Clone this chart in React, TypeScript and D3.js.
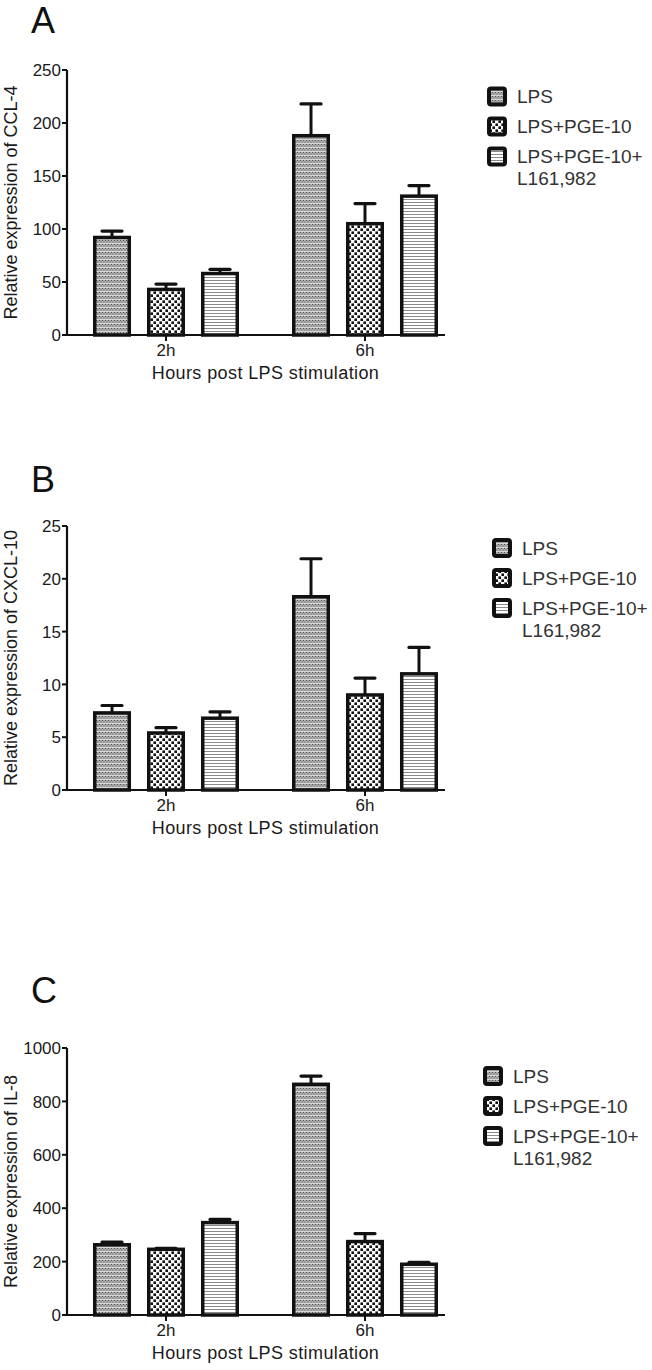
import { useEffect, useRef } from "react";
import * as d3 from "d3";

const groups = ["2h", "6h"];
const seriesNames = ["LPS", "LPS+PGE-10", "LPS+PGE-10+"];
const seriesSecondLine = ["", "", "L161,982"];
const patternIds = ["pat-lps", "pat-pge", "pat-l161"];

// values, [group][series]
const ccl4Mean = [[92, 43, 58], [188, 105, 131]];
const ccl4Err = [[6, 5, 4], [30, 19, 10]];
const ccl4Ticks = [0, 50, 100, 150, 200, 250];

const cxcl10Mean = [[7.3, 5.4, 6.8], [18.3, 9.0, 11.0]];
const cxcl10Err = [[0.7, 0.5, 0.6], [3.6, 1.6, 2.5]];
const cxcl10Ticks = [0, 5, 10, 15, 20, 25];

const il8Mean = [[263, 246, 346], [864, 275, 190]];
const il8Err = [[10, 4, 12], [31, 30, 7]];
const il8Ticks = [0, 200, 400, 600, 800, 1000];

const font = "'Liberation Sans', Arial, sans-serif";

const panels = [
  { letter: "A", yLabel: "Relative expression of CCL-4", mean: ccl4Mean, err: ccl4Err, ticks: ccl4Ticks, top: 70, bottom: 335, letterY: 33, legendX: 487, legendY: 96.5 },
  { letter: "B", yLabel: "Relative expression of CXCL-10", mean: cxcl10Mean, err: cxcl10Err, ticks: cxcl10Ticks, top: 526, bottom: 790, letterY: 492, legendX: 492, legendY: 548 },
  { letter: "C", yLabel: "Relative expression of IL-8", mean: il8Mean, err: il8Err, ticks: il8Ticks, top: 1048, bottom: 1315, letterY: 1003, legendX: 483, legendY: 1076 }
];

export default function App() {
  const svgRef = useRef<SVGSVGElement>(null);

  useEffect(() => {
    const svg = d3.select(svgRef.current);
    svg.selectAll("*").remove();

    const defs = svg.append("defs");
    // LPS: dense grey stipple with faint horizontal streaks
    const p1 = defs.append("pattern").attr("id", patternIds[0]).attr("patternUnits", "userSpaceOnUse").attr("width", 3).attr("height", 4);
    p1.append("rect").attr("width", 3).attr("height", 4).attr("fill", "#adadad");
    p1.append("rect").attr("x", 0).attr("y", 0).attr("width", 1).attr("height", 1).attr("fill", "#505050");
    p1.append("rect").attr("x", 1.5).attr("y", 1.5).attr("width", 1).attr("height", 1).attr("fill", "#606060");
    p1.append("rect").attr("x", 0).attr("y", 3).attr("width", 3).attr("height", 0.8).attr("fill", "#e2e2e2");
    // LPS+PGE-10: black checker dots
    const p2 = defs.append("pattern").attr("id", patternIds[1]).attr("patternUnits", "userSpaceOnUse").attr("width", 6).attr("height", 6);
    p2.append("rect").attr("width", 6).attr("height", 6).attr("fill", "#fff");
    p2.append("rect").attr("x", 0.4).attr("y", 0.4).attr("width", 2.6).attr("height", 2.6).attr("fill", "#111");
    p2.append("rect").attr("x", 3.4).attr("y", 3.4).attr("width", 2.6).attr("height", 2.6).attr("fill", "#111");
    // LPS+PGE-10+L161,982: horizontal lines
    const p3 = defs.append("pattern").attr("id", patternIds[2]).attr("patternUnits", "userSpaceOnUse").attr("width", 4).attr("height", 3);
    p3.append("rect").attr("width", 4).attr("height", 3).attr("fill", "#fff");
    p3.append("rect").attr("y", 1).attr("width", 4).attr("height", 1).attr("fill", "#8a8a8a");

    const xGroup = d3.scaleLinear().domain([0, 1]).range([166, 365]);
    const xSeries = d3.scaleBand().domain(seriesNames).range([-73, 73]).paddingInner(0.296);
    const axisLeft = 67;
    const axisRight = 445;

    panels.forEach((p) => {
      const g = svg.append("g");
      const y = d3.scaleLinear().domain([0, p.ticks[p.ticks.length - 1]]).range([p.bottom, p.top]);

      g.append("text")
        .attr("x", 31)
        .attr("y", p.letterY)
        .attr("font-family", font)
        .attr("font-size", 36)
        .attr("fill", "#111")
        .text(p.letter);

      // bars
      p.mean.forEach((row, gi) => {
        row.forEach((v, si) => {
          const x0 = xGroup(gi) + (xSeries(seriesNames[si]) as number);
          const w = xSeries.bandwidth();
          const cx = x0 + w / 2;
          const e = p.err[gi][si];
          g.append("line")
            .attr("x1", cx).attr("x2", cx)
            .attr("y1", y(v)).attr("y2", y(v + e))
            .attr("stroke", "#111").attr("stroke-width", 3);
          g.append("line")
            .attr("x1", cx - 10).attr("x2", cx + 10)
            .attr("y1", y(v + e)).attr("y2", y(v + e))
            .attr("stroke", "#111").attr("stroke-width", 3.2).attr("stroke-linecap", "round");
          g.append("rect")
            .attr("x", x0 + 1.75)
            .attr("y", y(v))
            .attr("width", w - 3.5)
            .attr("height", y(0) - y(v))
            .attr("fill", `url(#${patternIds[si]})`)
            .attr("stroke", "#111")
            .attr("stroke-width", 3.5);
        });
      });

      // y axis
      g.append("line")
        .attr("x1", axisLeft).attr("x2", axisLeft)
        .attr("y1", p.top).attr("y2", p.bottom)
        .attr("stroke", "#111").attr("stroke-width", 2.2);
      p.ticks.forEach((t) => {
        g.append("line")
          .attr("x1", axisLeft - 5).attr("x2", axisLeft)
          .attr("y1", y(t)).attr("y2", y(t))
          .attr("stroke", "#111").attr("stroke-width", 2);
        g.append("text")
          .attr("x", axisLeft - 6)
          .attr("y", y(t))
          .attr("dy", "0.36em")
          .attr("text-anchor", "end")
          .attr("font-family", font)
          .attr("font-size", 17)
          .attr("fill", "#1a1a1a")
          .text(t);
      });

      // x axis
      g.append("line")
        .attr("x1", axisLeft - 5).attr("x2", axisRight)
        .attr("y1", p.bottom).attr("y2", p.bottom)
        .attr("stroke", "#111").attr("stroke-width", 2.2);
      groups.forEach((name, gi) => {
        g.append("line")
          .attr("x1", xGroup(gi)).attr("x2", xGroup(gi))
          .attr("y1", p.bottom).attr("y2", p.bottom + 6)
          .attr("stroke", "#111").attr("stroke-width", 2);
        g.append("text")
          .attr("x", xGroup(gi))
          .attr("y", p.bottom + 21)
          .attr("text-anchor", "middle")
          .attr("font-family", font)
          .attr("font-size", 17)
          .attr("fill", "#1a1a1a")
          .text(name);
      });
      g.append("text")
        .attr("x", (xGroup(0) + xGroup(1)) / 2)
        .attr("y", p.bottom + 44)
        .attr("text-anchor", "middle")
        .attr("font-family", font)
        .attr("font-size", 18)
        .attr("letter-spacing", 0.4)
        .attr("fill", "#1a1a1a")
        .text("Hours post LPS stimulation");

      g.append("text")
        .attr("transform", `translate(17,${(p.top + p.bottom) / 2}) rotate(-90)`)
        .attr("text-anchor", "middle")
        .attr("font-family", font)
        .attr("font-size", 18)
        .attr("fill", "#1a1a1a")
        .text(p.yLabel);

      // legend
      seriesNames.forEach((name, si) => {
        const cy = p.legendY + si * 30;
        g.append("rect")
          .attr("x", p.legendX + 2)
          .attr("y", cy - 8)
          .attr("width", 16)
          .attr("height", 16)
          .attr("rx", 2)
          .attr("fill", `url(#${patternIds[si]})`)
          .attr("stroke", "#111")
          .attr("stroke-width", 4);
        g.append("text")
          .attr("x", p.legendX + 30)
          .attr("y", cy)
          .attr("dy", "0.36em")
          .attr("font-family", font)
          .attr("font-size", 19)
          .attr("fill", "#333")
          .text(name);
        if (seriesSecondLine[si]) {
          g.append("text")
            .attr("x", p.legendX + 30)
            .attr("y", cy + 22)
            .attr("dy", "0.36em")
            .attr("font-family", font)
            .attr("font-size", 19)
            .attr("fill", "#333")
            .text(seriesSecondLine[si]);
        }
      });
    });
  }, []);

  return (
    <svg
      ref={svgRef}
      width={652}
      height={1370}
      style={{ position: "absolute", left: 0, top: 0, background: "#fff" }}
    />
  );
}
